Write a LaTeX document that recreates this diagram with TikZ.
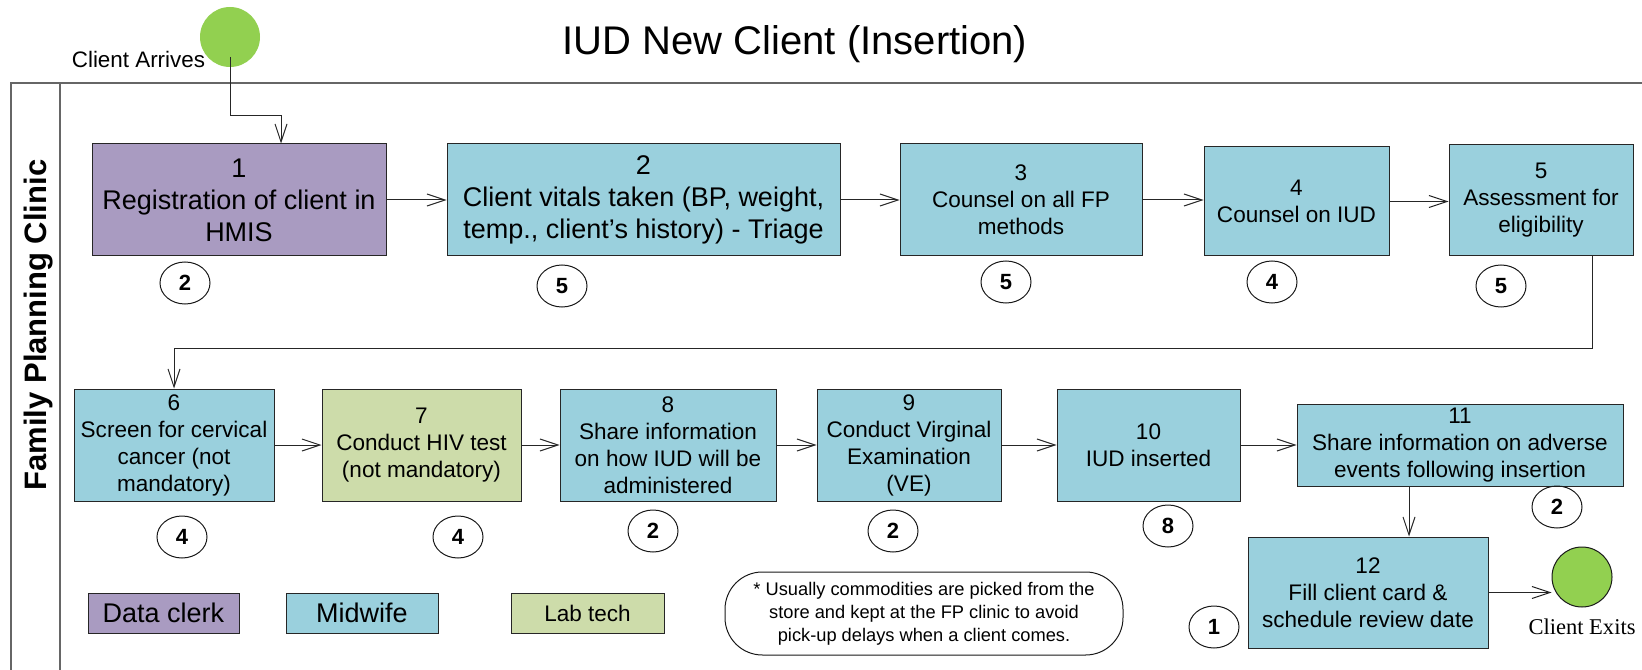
\documentclass[tikz,border=0pt]{standalone}
\usepackage{fontspec}
\setmainfont{Liberation Sans}
\newfontfamily\exitfont{Liberation Serif}
\usetikzlibrary{arrows.meta,shapes.geometric}

\definecolor{clerkfill}{HTML}{A99BC1}
\definecolor{midfill}{HTML}{9AD0DD}
\definecolor{labfill}{HTML}{CDDCAA}
\definecolor{eventfill}{HTML}{92D050}

\tikzset{every picture/.style={line width=0.75pt}}
\tikzset{
  stepbox/.style={draw=black!85, fill=midfill, align=center, inner sep=2pt, font=\fontsize{16.9}{20.25}\selectfont},
  bigstep/.style={stepbox, font=\fontsize{20.25}{24}\selectfont},
  timer/.style={ellipse, draw=black!90, minimum width=37.5pt, minimum height=31.5pt, inner sep=0pt, font=\bfseries\fontsize{16.5}{18}\selectfont},
  event/.style={circle, fill=eventfill, minimum size=45pt, inner sep=0pt},
  keybox/.style={draw=black!85, minimum height=30pt, inner sep=0pt},
  flow/.style={-{Straight Barb[length=13.5pt,width=9pt]}, black!85},
  lane/.style={draw=black!60, line width=1.2pt}
}

\begin{document}
\begin{tikzpicture}[x=0.75pt,y=0.75pt,yscale=-1]
		\useasboundingbox (0,0) rectangle (1642,670);
		
		%Swimlane
		\draw[lane] (1642,83) -- (11,83) -- (11,670);
		\draw[lane] (60,83) -- (60,670);
		\node[rotate=90, anchor=base, font=\bfseries\fontsize{23.25}{28}\selectfont] (lanename) at (46,325) {Family Planning Clinic};
		
		%Title
		\node[font=\fontsize{30}{36}\selectfont] (title) at (795,44) {IUD New Client (Insertion)};
		
		%Client arrives
		\node[event] (arrive) at (230,37) {};
		\node[anchor=base east, font=\fontsize{16.8}{20}\selectfont] (arrivetext) at (210,68) {Client Arrives};
		
		%Steps, first row
		\node[bigstep, fill=clerkfill, minimum width=220.5pt, minimum height=84pt] (reg) at (239,200) {1\\Registration of client in\\HMIS};
		\node[bigstep, minimum width=294.75pt, minimum height=84pt] (vitals) at (643.5,200) {2\\Client vitals taken (BP, weight,\\temp., client’s history) - Triage};
		\node[stepbox, minimum width=181.5pt, minimum height=84pt] (counselfp) at (1021,200) {3\\Counsel on all FP\\methods};
		\node[stepbox, minimum width=138.75pt, minimum height=81.75pt] (counseliud) at (1296.5,201.5) {4\\Counsel on IUD};
		\node[stepbox, minimum width=138pt, minimum height=83.25pt] (assess) at (1541,200.5) {5\\Assessment for\\eligibility};
		
		%Steps, second row
		\node[stepbox, minimum width=150pt, minimum height=84pt] (screen) at (174,445) {6\\Screen for cervical\\cancer (not\\mandatory)};
		\node[stepbox, fill=labfill, minimum width=149.25pt, minimum height=84pt] (hiv) at (421.5,445) {7\\Conduct HIV test\\(not mandatory)};
		\node[stepbox, minimum width=162pt, minimum height=84pt] (share) at (668,445) {8\\Share information\\on how IUD will be\\administered};
		\node[stepbox, minimum width=138pt, minimum height=84pt] (exam) at (909,445) {9\\Conduct Virginal\\Examination\\(VE)};
		\node[stepbox, minimum width=137.25pt, minimum height=84pt] (insert) at (1148.5,445) {10\\IUD inserted};
		\node[stepbox, minimum width=244.5pt, minimum height=61.5pt] (adverse) at (1460,445) {11\\Share information on adverse\\events following insertion};
		\node[stepbox, minimum width=180pt, minimum height=83.25pt] (card) at (1368,592.5) {12\\Fill client card \&\\schedule review date};
		
		%Client exits
		\node[event, draw=black!90] (exit) at (1582,577) {};
		\node[font=\exitfont\fontsize{16.9}{20}\selectfont] (exittext) at (1582,627) {Client Exits};
		
		%Minutes per step
		\node[timer] (t1) at (185,283) {2};
		\node[timer] (t2) at (562,286) {5};
		\node[timer] (t3) at (1006,282) {5};
		\node[timer] (t4) at (1272,282) {4};
		\node[timer] (t5) at (1501,286) {5};
		\node[timer] (t6) at (182,537) {4};
		\node[timer] (t7) at (458,537) {4};
		\node[timer] (t8) at (653,531) {2};
		\node[timer] (t9) at (893,531) {2};
		\node[timer] (t10) at (1168,526) {8};
		\node[timer] (t11) at (1557,507) {2};
		\node[timer] (t12) at (1214,627) {1};
		
		%Key
		\node[keybox, fill=clerkfill, minimum width=113.25pt, font=\fontsize{20.25}{24}\selectfont] (keyclerk) at (163.5,613) {Data clerk};
		\node[keybox, fill=midfill, minimum width=114pt, font=\fontsize{20.25}{24}\selectfont] (keymid) at (362,613) {Midwife};
		\node[keybox, fill=labfill, minimum width=114.75pt, font=\fontsize{16.9}{20}\selectfont] (keylab) at (587.5,613) {Lab tech};
		
		%Note
		\node[draw=black!90, rounded corners=28pt, minimum width=298.5pt, minimum height=62.25pt, align=center, font=\fontsize{13.7}{17.25}\selectfont] (note) at (924,613.5) {* Usually commodities are picked from the\\store and kept at the FP clinic to avoid\\pick-up delays when a client comes.};
		
		%Connectors
		\coordinate (leave) at (230,57);
		\coordinate (entry) at (281,116);
		\draw[flow] (leave) |- (entry) -- (entry |- reg.north);
		\draw[flow] (reg.east) -- (vitals.west);
		\draw[flow] (vitals.east) -- (counselfp.west);
		\draw[flow] (counselfp.east) -- (counselfp.east -| counseliud.west);
		\draw[flow] (counseliud.east) -- (counseliud.east -| assess.west);
		\coordinate (turn) at (1592,348);
		\draw[flow] (turn |- assess.south) -- (turn) -| (screen.north);
		\draw[flow] (screen.east) -- (hiv.west);
		\draw[flow] (hiv.east) -- (share.west);
		\draw[flow] (share.east) -- (exam.west);
		\draw[flow] (exam.east) -- (insert.west);
		\draw[flow] (insert.east) -- (adverse.west);
		\coordinate (drop) at (1409,500);
		\draw[flow] (drop |- adverse.south) -- (drop |- card.north);
		\draw[flow] (card.east) -- (card.east -| exit.west);
	\end{tikzpicture}
\end{document}
